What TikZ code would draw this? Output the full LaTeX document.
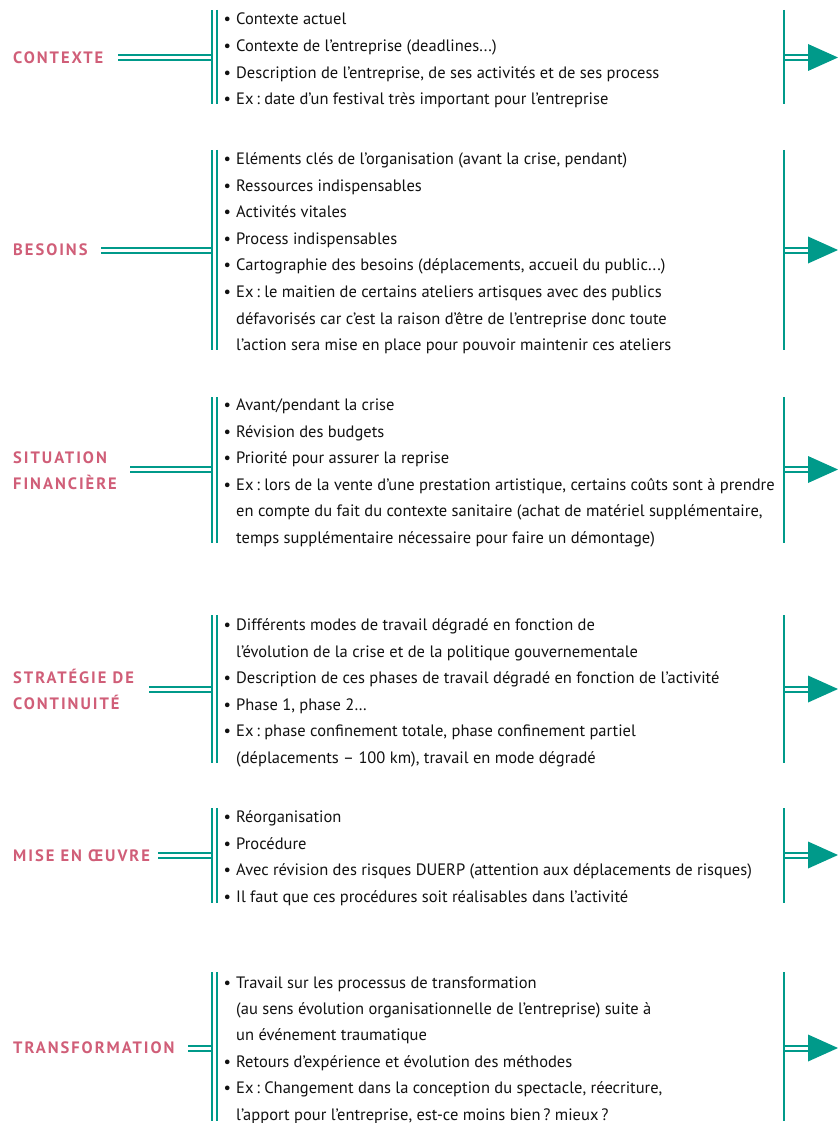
\documentclass[tikz,border=0pt]{standalone}
\usepackage{fontspec}
\setmainfont{PT Sans}
\newfontfamily\lblfont[LetterSpace=12]{PT Sans}
\definecolor{tealc}{RGB}{0,154,138}
\definecolor{pinkc}{RGB}{208,94,120}
\definecolor{txtc}{RGB}{17,17,17}
\newcommand\bl{\llap{•\hspace{5pt}}}
\newcommand\tdots{.{}.{}.}
\frenchspacing
\tikzset{
  lbl/.style={anchor=west, inner sep=0pt, text=pinkc, font=\lblfont\bfseries\fontsize{16.5}{26}\selectfont, align=left},
  txt/.style={anchor=base west, inner sep=0pt, text=txtc, font=\fontsize{16.5}{18}\selectfont},
  dblh/.style={draw=tealc, line width=2pt, double=white, double distance=3pt},
  vbar/.style={draw=tealc, line width=2.3pt},
  tri/.style={fill=tealc, draw=none}
}
\begin{document}
\begin{tikzpicture}[x=1pt,y=-1pt]
\useasboundingbox (0,0) rectangle (837,1123);
% labels
\node[lbl] (L1) at (13,58) {CONTEXTE};
\node[lbl] (L2) at (13,250) {BESOINS};
\node[lbl] (L3) at (13,471) {SITUATION\\FINANCIÈRE};
\node[lbl] (L4) at (13,689.5) {STRATÉGIE DE\\CONTINUITÉ};
\node[lbl] (L5) at (13,856) {MISE EN ŒUVRE};
\node[lbl] (L6) at (13,1048) {TRANSFORMATION};
% structure
\foreach \n/\ys/\ye/\yj/\xs in {1/10/104/57.5/118, 2/150/350/250/101, 3/397/543/469.5/130, 4/615/763/689/149, 5/808/903/855/158, 6/972/1121/1048/188}{
  \coordinate (s\n) at (\xs,\yj);
  \coordinate (j\n) at (213,\yj);
  \coordinate (bt\n) at (214.5,\ys);
  \coordinate (bb\n) at (214.5,\ye);
  \coordinate (rt\n) at (784.3,\ys);
  \coordinate (rb\n) at (784.3,\ye);
  \coordinate (r\n) at (784.3,\yj);
  \coordinate (m\n) at (810,\yj);
  \coordinate (a\n) at (838,\yj);
  \draw[dblh] (s\n) -- (j\n);
  \draw[dblh] (bt\n) -- (bb\n);
  \draw[dblh] (r\n) -- (m\n);
  \draw[vbar] (rt\n) -- (rb\n);
  \path[tri] (a\n) -- ([shift={(-30,-13.5)}]a\n) -- ([shift={(-30,13.5)}]a\n) -- cycle;
}
% texts
\foreach \t [count=\i from 0] in {
  {\bl Contexte actuel},
  {\bl Contexte de l’entreprise (deadlines\tdots)},
  {\bl Description de l’entreprise, de ses activités et de ses process},
  {\bl Ex\,: date d’un festival très important pour l’entreprise}}
  {\node[txt] (tA\i) at (236,{25+26.6*\i}) {\t};}
\foreach \t [count=\i from 0] in {
  {\bl Eléments clés de l’organisation (avant la crise, pendant)},
  {\bl Ressources indispensables},
  {\bl Activités vitales},
  {\bl Process indispensables},
  {\bl Cartographie des besoins (déplacements, accueil du public\tdots)},
  {\bl Ex\,: le maitien de certains ateliers artisques avec des publics},
  {défavorisés car c’est la raison d’être de l’entreprise donc toute},
  {l’action sera mise en place pour pouvoir maintenir ces ateliers}}
  {\node[txt] (tB\i) at (236,{164.5+26.6*\i}) {\t};}
\foreach \t [count=\i from 0] in {
  {\bl Avant/pendant la crise},
  {\bl Révision des budgets},
  {\bl Priorité pour assurer la reprise},
  {\bl Ex\,: lors de la vente d’une prestation artistique, certains coûts sont à prendre},
  {en compte du fait du contexte sanitaire (achat de matériel supplémentaire,},
  {temps supplémentaire nécessaire pour faire un démontage)}}
  {\node[txt] (tC\i) at (236,{410.5+26.6*\i}) {\t};}
\foreach \t [count=\i from 0] in {
  {\bl Différents modes de travail dégradé en fonction de},
  {l’évolution de la crise et de la politique gouvernementale},
  {\bl Description de ces phases de travail dégradé en fonction de l’activité},
  {\bl Phase 1, phase 2…},
  {\bl Ex\,: phase confinement totale, phase confinement partiel},
  {(déplacements – 100 km), travail en mode dégradé}}
  {\node[txt] (tD\i) at (236,{630.5+26.6*\i}) {\t};}
\foreach \t [count=\i from 0] in {
  {\bl Réorganisation},
  {\bl Procédure},
  {\bl Avec révision des risques DUERP (attention aux déplacements de risques)},
  {\bl Il faut que ces procédures soit réalisables dans l’activité}}
  {\node[txt] (tE\i) at (236,{822.5+26.6*\i}) {\t};}
\foreach \t [count=\i from 0] in {
  {\bl Travail sur les processus de transformation},
  {(au sens évolution organisationnelle de l’entreprise) suite à},
  {un événement traumatique},
  {\bl Retours d’expérience et évolution des méthodes},
  {\bl Ex\,: Changement dans la conception du spectacle, réecriture,},
  {l’apport pour l’entreprise, est-ce moins bien\,? mieux\,?}}
  {\node[txt] (tF\i) at (236,{988+26.4*\i}) {\t};}
\end{tikzpicture}
\end{document}
